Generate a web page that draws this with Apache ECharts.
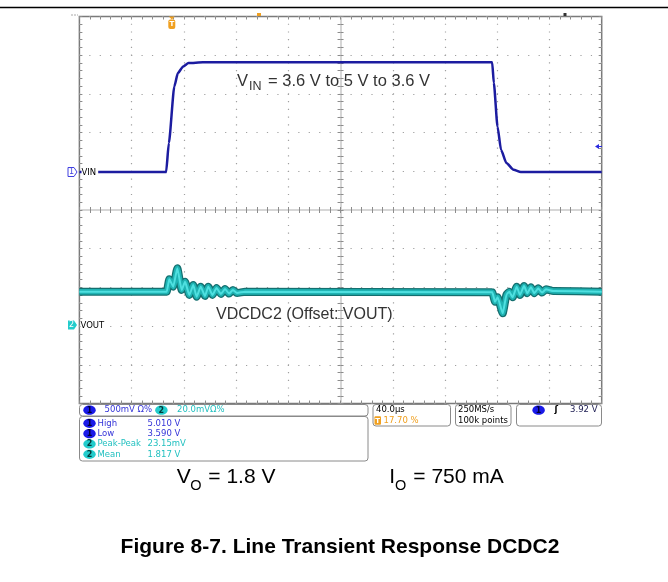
<!DOCTYPE html>
<html>
<head>
<meta charset="utf-8">
<script src="https://cdn.jsdelivr.net/npm/echarts@6/dist/echarts.min.js"></script>
<style>
html, body { margin: 0; padding: 0; background: #fff; }
#chart { width: 668px; height: 582px; }
</style>
</head>
<body>
<div id="chart"></div>
<script>
// scope settings (10 x 10 divisions)
const timeRange = [0, 400];      // µs, 40 µs/div
const ch1Range = [0.6, 5.6];     // V, 500 mV/div
const ch2Range = [1.76, 1.96];   // V, 20 mV/div

// channel 1 : VIN
const vinTime = [0, 66.4, 68.5, 72.7, 75.4, 79.5, 83.6, 94.6, 316.1, 317.4, 320.2, 322.9, 327.0, 332.5, 338.0, 400];
const vinVolt = [3.59, 3.59, 3.965, 4.696, 4.869, 4.954, 4.998, 5.01, 5.01, 4.740, 4.179, 3.878, 3.706, 3.620, 3.59, 3.59];

// channel 2 : VOUT (ac detail around 1.817 V)
const voutTime = [0, 66.9, 68.8, 71.9, 75.0, 78.3, 80.9, 84.2, 87.2, 89.8, 92.9, 96.2, 98.7, 101.9, 105.0, 108.4, 111.5, 114.6, 117.6, 120.7, 126.8,
  316.2, 318.3, 320.3, 324.2, 327.2, 329.2, 331.8, 334.9, 337.4, 340.5, 343.0, 345.8, 348.4, 351.4, 354.3, 357.3, 362.9, 400];
const voutVolt = [1.8178, 1.8178, 1.8242, 1.8204, 1.8299, 1.8187, 1.8229, 1.8161, 1.8212, 1.8152, 1.8204, 1.8156, 1.8204, 1.8161, 1.8197, 1.8166, 1.8192, 1.8168, 1.8187, 1.8171, 1.8178,
  1.8175, 1.8126, 1.8149, 1.8066, 1.8165, 1.8178, 1.8149, 1.8204, 1.8161, 1.8207, 1.8170, 1.8201, 1.8170, 1.8195, 1.8173, 1.8190, 1.8181, 1.8178];

// measurement readouts
const measLabels = ['High', 'Low', 'Peak-Peak', 'Mean'];
const measValues = ['5.010 V', '3.590 V', '23.15mV', '1.817 V'];
const measChannel = [1, 1, 2, 2];

const vinData = vinTime.map((t, i) => [t, vinVolt[i]]);
const voutData = voutTime.map((t, i) => [t, voutVolt[i]]);

const chart = echarts.init(document.getElementById('chart'));

const rect = { left: 79.4, top: 16.5, width: 522.3, height: 387 };
const tickColor = '#8c8c8c';
const blue = '#3434d8', cyan = '#22c0c0', orange = '#f0a020';
const sans = 'Liberation Sans', ui = 'DejaVu Sans';

function divAxis(gridIndex, position, opt) {
  return Object.assign({
    gridIndex: gridIndex, position: position, type: 'value', min: -5, max: 5, interval: 1,
    axisLine: { show: false, onZero: false },
    axisLabel: { show: false },
    axisTick: { show: true, inside: true, length: 3, lineStyle: { color: tickColor } },
    minorTick: { show: true, splitNumber: 5, length: 3, lineStyle: { color: tickColor } },
    splitLine: { show: false }
  }, opt || {});
}
const centerLine = { show: true, onZero: true, lineStyle: { color: '#d6d6d6', width: 2 } };
const outTick = { show: true, inside: false, length: 3, lineStyle: { color: tickColor } };

function txt(x, y, s, o) {
  o = o || {};
  return {
    type: 'text', z: 100,
    style: Object.assign({
      x: x, y: y, text: s, fill: '#000', fontSize: 8.5, fontFamily: ui,
      align: 'left', verticalAlign: 'middle'
    }, o)
  };
}
function box(x, y, w, h) {
  return { type: 'rect', z: 90, shape: { x: x, y: y, width: w, height: h, r: 3 },
    style: { fill: '#fff', stroke: '#8a8a8a', lineWidth: 1 } };
}
function pill(cx, cy, ch) {
  return [
    { type: 'ellipse', z: 100, shape: { cx: cx, cy: cy, rx: 6.2, ry: 4.6 },
      style: { fill: ch === 1 ? '#1a1ae8' : '#22cccc' } },
    txt(cx, cy + 0.3, String(ch), { align: 'center', fontSize: 8, fontWeight: 'bold', fill: ch === 1 ? '#00003a' : '#003838' })
  ];
}

const graphics = [
  { type: 'line', z: 100, shape: { x1: 0, y1: 7.5, x2: 668, y2: 7.5 }, style: { stroke: '#000', lineWidth: 1.5 } },
  { type: 'rect', z: 100, shape: { x: 257, y: 13, width: 4, height: 3 }, style: { fill: orange } },
  { type: 'rect', z: 100, shape: { x: 563.5, y: 13, width: 3, height: 3 }, style: { fill: '#333' } },
  { type: 'line', z: 100, shape: { x1: 71, y1: 15, x2: 78, y2: 15 }, style: { stroke: '#aaa', lineWidth: 1, lineDash: [2, 1] } },
  // trigger position marker
  { type: 'polygon', z: 100, shape: { points: [[168.8, 16.5], [174.8, 16.5], [171.8, 19.5]] }, style: { fill: orange } },
  { type: 'rect', z: 100, shape: { x: 168.3, y: 19.5, width: 7, height: 9.5, r: 2 }, style: { fill: orange } },
  txt(171.8, 24.5, 'T', { align: 'center', fontSize: 7, fontWeight: 'bold', fill: '#fff' }),
  // trigger level marker
  { type: 'polygon', z: 100, shape: { points: [[595, 146.5], [599, 144], [599, 149]] }, style: { fill: '#2a2ae0' } },
  { type: 'line', z: 100, shape: { x1: 599, y1: 146.5, x2: 602, y2: 146.5 }, style: { stroke: '#2a2ae0', lineWidth: 1 } },
  // channel markers
  { type: 'polygon', z: 100, shape: { points: [[68, 167.5], [74, 167.5], [77, 172], [74, 176.5], [68, 176.5]] }, style: { fill: '#fff', stroke: '#4040e0', lineWidth: 1 } },
  txt(71.5, 172.3, '1', { align: 'center', fontSize: 8, fill: '#4040e0' }),
  txt(81.5, 172.3, 'VIN', { backgroundColor: '#fff', padding: [0, 2, 0, 0] }),
  { type: 'polygon', z: 100, shape: { points: [[68, 320.5], [74, 320.5], [77, 325], [74, 329.5], [68, 329.5]] }, style: { fill: '#22cccc' } },
  txt(71.5, 325.3, '2', { align: 'center', fontSize: 8, fill: '#fff' }),
  txt(80.5, 325.3, 'VOUT', { backgroundColor: '#fff', padding: [0, 1, 0, 0] }),
  // annotations
  txt(237, 81.5, 'V', { fontSize: 16.5, fontFamily: sans, fill: '#333' }),
  txt(249, 86.7, 'IN', { fontSize: 12.5, fontFamily: sans, fill: '#333' }),
  txt(263.5, 81.5, ' = 3.6 V to 5 V to 3.6 V', { fontSize: 16.5, fontFamily: sans, fill: '#333' }),
  txt(216, 314.5, 'VDCDC2 (Offset: VOUT)', { fontSize: 16, fontFamily: sans, fill: '#333' }),
  txt(176.7, 477.5, 'V', { fontSize: 21, fontFamily: sans }),
  txt(190.3, 485.5, 'O', { fontSize: 14.5, fontFamily: sans }),
  txt(202.5, 477.5, ' = 1.8 V', { fontSize: 21, fontFamily: sans }),
  txt(389.3, 477.5, 'I', { fontSize: 21, fontFamily: sans }),
  txt(395, 485.5, 'O', { fontSize: 14.5, fontFamily: sans }),
  txt(407.5, 477.5, ' = 750 mA', { fontSize: 21, fontFamily: sans }),
  txt(340, 547.5, 'Figure 8-7. Line Transient Response DCDC2', { fontSize: 21, fontFamily: sans, fontWeight: 'bold', align: 'center' }),
  // readout boxes
  box(79.5, 404.5, 288.5, 11.5),
  box(79.5, 416.5, 288.5, 44.5),
  box(373, 404.5, 77.5, 21.5),
  box(455.5, 404.5, 55.5, 21.5),
  box(516.5, 404.5, 85, 21.5),
  ...pill(89.5, 410.2, 1),
  txt(104.6, 410.2, '500mV Ω%', { fill: blue }),
  ...pill(161.4, 410.2, 2),
  txt(177, 410.2, '20.0mVΩ%', { fill: cyan }),
  txt(376, 410.2, '40.0µs'),
  { type: 'rect', z: 100, shape: { x: 374.5, y: 416.2, width: 6.5, height: 8.5, r: 1 }, style: { fill: orange } },
  txt(377.75, 420.7, 'T', { align: 'center', fontSize: 7, fontWeight: 'bold', fill: '#fff' }),
  txt(383.5, 420.7, '17.70 %', { fill: orange }),
  txt(458, 410.2, '250MS/s'),
  txt(458, 420.7, '100k points'),
  ...pill(538.6, 410.2, 1),
  txt(554.6, 410.2, 'ʃ', { fontWeight: 'bold' }),
  txt(597.5, 410.2, '3.92 V', { align: 'right', fill: '#1a1a50' })
];
const rowY = [423.3, 433.7, 444, 454.3];
measLabels.forEach((lab, i) => {
  const col = measChannel[i] === 1 ? blue : cyan;
  graphics.push(...pill(89.5, rowY[i], measChannel[i]));
  graphics.push(txt(97.5, rowY[i], lab, { fill: col }));
  graphics.push(txt(147.5, rowY[i], measValues[i], { fill: col }));
});

function voutLayer(width, color, z) {
  return { name: 'VOUT', type: 'line', xAxisIndex: 4, yAxisIndex: 5, data: voutData, showSymbol: false,
    smooth: 0.15, smoothMonotone: 'x', lineStyle: { width: width, color: color }, z: z };
}

const option = {
  animation: false,
  backgroundColor: '#fff',
  grid: [
    Object.assign({ show: true, borderColor: '#7a7a7a', borderWidth: 1.5 }, rect),
    Object.assign({}, rect),
    Object.assign({}, rect),
    Object.assign({}, rect)
  ],
  xAxis: [
    divAxis(0, 'bottom', { splitLine: { show: true, lineStyle: { color: '#a0a0a0', width: 1.2, type: [1.2, 6.54], dashOffset: 0.6 } } }),
    divAxis(0, 'top'),
    divAxis(1, 'bottom', { axisLine: centerLine, axisTick: outTick }),
    divAxis(2, 'bottom', { axisLine: centerLine }),
    { gridIndex: 3, type: 'value', min: timeRange[0], max: timeRange[1], show: false }
  ],
  yAxis: [
    divAxis(0, 'left', { splitLine: { show: true, lineStyle: { color: '#a0a0a0', width: 1.2, type: [1.2, 9.25], dashOffset: 0.6 } } }),
    divAxis(0, 'right'),
    divAxis(1, 'left', { axisLine: centerLine, axisTick: outTick }),
    divAxis(2, 'left', { axisLine: centerLine }),
    { gridIndex: 3, type: 'value', min: ch1Range[0], max: ch1Range[1], show: false },
    { gridIndex: 3, type: 'value', min: ch2Range[0], max: ch2Range[1], show: false }
  ],
  series: [
    voutLayer(8, '#146f6f', 3),
    voutLayer(5.5, '#1fb3b3', 4),
    voutLayer(2, '#4fe0e0', 5),
    { name: 'VIN', type: 'line', xAxisIndex: 4, yAxisIndex: 4, data: vinData, showSymbol: false, smooth: 0.2, smoothMonotone: 'x',
      lineStyle: { width: 2.5, color: '#1c1ca0' }, z: 6 }
  ],
  graphic: graphics
};
chart.setOption(option);
</script>
</body>
</html>
